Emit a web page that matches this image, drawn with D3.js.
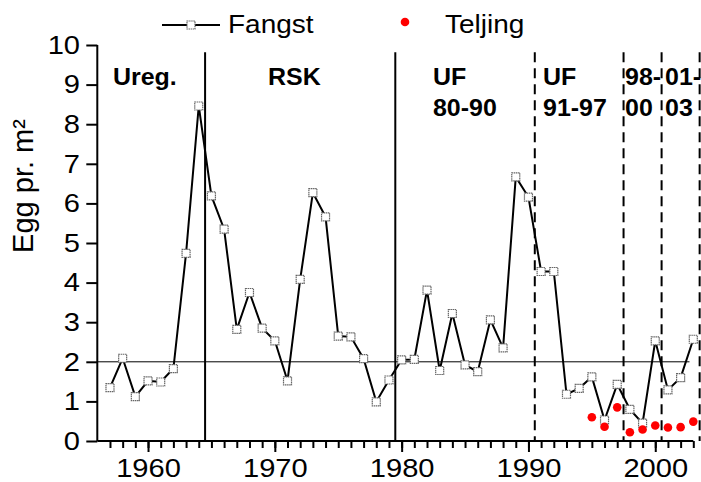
<!DOCTYPE html>
<html><head><meta charset="utf-8">
<script src="https://cdn.jsdelivr.net/npm/d3@7"></script>
<style>
html,body{margin:0;padding:0;background:#fff;}
text{font-family:"Liberation Sans",Arial,sans-serif;}
</style></head>
<body>
<svg id="chart" width="701" height="482"></svg>
<script>
// ---- data ----
const fangstYears = d3.range(1957, 2004);
const fangstValues = [1.35,2.09,1.12,1.52,1.49,1.83,4.74,8.46,6.19,5.35,2.82,3.75,2.85,2.53,1.52,4.08,6.27,5.66,2.65,2.63,2.08,0.99,1.54,2.05,2.06,3.81,1.78,3.22,1.92,1.75,3.06,2.35,6.67,6.16,4.28,4.28,1.18,1.33,1.62,0.53,1.43,0.80,0.45,2.53,1.29,1.60,2.57];
const teljingYears = [1995,1996,1997,1998,1999,2000,2001,2002,2003];
const teljingValues = [0.60,0.36,0.85,0.22,0.29,0.39,0.34,0.35,0.49];
const solidBoundaries = [1964.5, 1979.5];
const dashedBoundaries = [1990.5, 1997.5, 2000.5, 2003.5];
const periodLabels = [
  {x:1957.24, lines:["Ureg."]},
  {x:1969.46, lines:["RSK"]},
  {x:1982.47, lines:["UF","80-90"]},
  {x:1991.15, lines:["UF","91-97"]},
  {x:1997.62, lines:["98-","00"]},
  {x:2000.77, lines:["01-","03"]}
];
const yTicks = d3.range(0, 11);
const xMajorTicks = [1960, 1970, 1980, 1990, 2000];
const xMinorTicks = d3.range(1957, 2004);
const referenceLevel = 2;

// ---- layout ----
const svg = d3.select("#chart");
const x = d3.scaleLinear().domain([1956, 2003]).range([97.3, 693.3]);
const y = d3.scaleLinear().domain([0, 10]).range([441, 45]);
const FS = 26, SX = 1.12;

// horizontal reference line
svg.append("line")
  .attr("x1", x(1956)).attr("x2", x(2002.7))
  .attr("y1", y(referenceLevel)).attr("y2", y(referenceLevel))
  .attr("stroke", "#000").attr("stroke-width", 1);

// boundaries
svg.selectAll(".solidb").data(solidBoundaries).enter().append("line")
  .attr("x1", d => x(d)).attr("x2", d => x(d))
  .attr("y1", y(9.82)).attr("y2", y(0))
  .attr("stroke", "#000").attr("stroke-width", 2);
svg.selectAll(".dashb").data(dashedBoundaries).enter().append("line")
  .attr("x1", d => x(d)).attr("x2", d => x(d))
  .attr("y1", y(9.82)).attr("y2", y(0))
  .attr("stroke", "#000").attr("stroke-width", 2)
  .attr("stroke-dasharray", "10,6");

// y axis
const yAxis = d3.axisLeft(y).tickValues(yTicks).tickSize(11).tickPadding(4.4).tickFormat(d3.format("d"));
const gy = svg.append("g").attr("transform", `translate(${x(1956)},0)`).call(yAxis);
gy.select(".domain").attr("stroke-width", 2).attr("d", `M0,${y(0)}V${y(10)}`);
gy.selectAll(".tick line").attr("stroke-width", 2);
gy.selectAll("text").attr("font-size", FS).attr("font-family", null).attr("fill", "#000")
  .attr("transform", `scale(${SX},1)`);

// x axis minor
const xMinor = d3.axisBottom(x).tickValues(xMinorTicks).tickSize(7).tickFormat("");
const gxm = svg.append("g").attr("transform", `translate(0,${y(0)})`).call(xMinor);
gxm.select(".domain").attr("stroke-width", 2).attr("d", `M${x(1956)},0H${x(2003)}`);
gxm.selectAll(".tick line").attr("stroke-width", 2);
// x axis major
const xMajor = d3.axisBottom(x).tickValues(xMajorTicks).tickSize(11).tickPadding(7).tickFormat(d3.format("d"));
const gx = svg.append("g").attr("transform", `translate(0,${y(0)})`).call(xMajor);
gx.select(".domain").remove();
gx.selectAll(".tick line").attr("stroke-width", 2);
gx.selectAll("text").attr("font-size", FS).attr("font-family", null).attr("fill", "#000")
  .attr("transform", `scale(${SX},1)`);

// line
const line = d3.line().x((d, i) => x(fangstYears[i])).y(d => y(d));
svg.append("path").datum(fangstValues).attr("d", line)
  .attr("fill", "none").attr("stroke", "#000").attr("stroke-width", 2);
svg.selectAll(".sq").data(fangstValues).enter().append("rect")
  .attr("x", (d, i) => x(fangstYears[i]) - 4).attr("y", d => y(d) - 4)
  .attr("width", 8).attr("height", 8)
  .attr("fill", "#fff").attr("stroke", "#666").attr("stroke-width", 1.2)
  .attr("stroke-dasharray", "1.5,0.6");

// teljing
svg.selectAll(".dot").data(teljingValues).enter().append("circle")
  .attr("cx", (d, i) => x(teljingYears[i])).attr("cy", d => y(d)).attr("r", 4.3)
  .attr("fill", "#ff0000");

// period labels
periodLabels.forEach(p => {
  p.lines.forEach((t, k) => {
    svg.append("text")
      .attr("transform", `translate(${x(p.x)},${85 + k * 31}) scale(1.04,1)`)
      .attr("font-size", 24).attr("font-weight", "bold").text(t);
  });
});

// y title
svg.append("text").attr("transform", "translate(33,186) rotate(-90)")
  .attr("text-anchor", "middle").attr("font-size", 29)
  .text("Egg pr. m²");

// legend
svg.append("line").attr("x1", 162).attr("x2", 220).attr("y1", 25).attr("y2", 25)
  .attr("stroke", "#000").attr("stroke-width", 2);
svg.append("rect").attr("x", 191 - 4).attr("y", 25 - 4).attr("width", 8).attr("height", 8)
  .attr("fill", "#fff").attr("stroke", "#666").attr("stroke-width", 1.2)
  .attr("stroke-dasharray", "1.5,0.6");
svg.append("text").attr("transform", `translate(228,33) scale(${SX},1)`).attr("font-size", 25).text("Fangst");
svg.append("circle").attr("cx", 405).attr("cy", 22).attr("r", 4.3).attr("fill", "#ff0000");
svg.append("text").attr("transform", `translate(445,33) scale(${SX},1)`).attr("font-size", 25).text("Teljing");
</script>
</body></html>
